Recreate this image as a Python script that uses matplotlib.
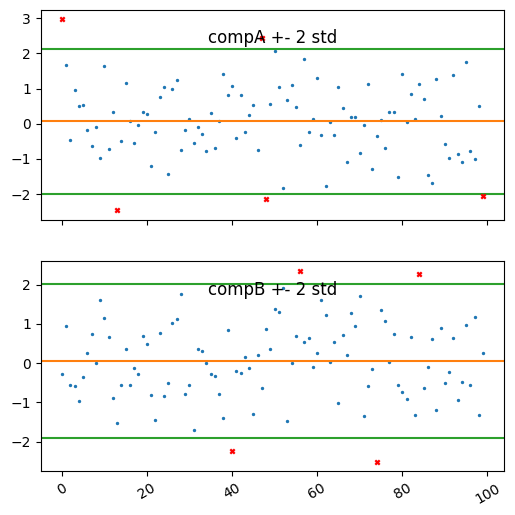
import numpy as np
from matplotlib import pyplot as plt

# values read per sample index
compA = [2.97, 1.67, -0.46, 0.96, 0.50, 0.53, -0.18, -0.63, -0.09, -0.98,
         1.64, -0.72, 0.33, -2.45, -0.49, 1.16, 0.08, -0.55, -0.04, 0.33,
         0.28, -1.20, -0.24, 0.76, 1.04, -1.43, 0.99, 1.24, -0.75, -0.18,
         0.13, -0.55, -0.09, -0.29, -0.78, 0.30, -0.69, 0.07, 1.41, 0.81,
         1.07, -0.41, 0.81, -0.24, 0.25, 0.53, -0.75, 2.45, -2.14, 0.56,
         2.06, 1.04, -1.83, 0.67, 1.10, 0.47, -0.61, 1.84, -0.24, 0.13,
         1.30, -0.32, -1.77, 0.05, -0.32, 1.04, 0.45, -1.09, 0.19, 0.19,
         -0.83, -0.04, 1.13, -1.29, -0.35, 0.12, -0.69, 0.33, 0.33, -1.51,
         1.41, 0.05, 0.84, 0.13, 1.12, 0.70, -1.46, -1.68, 1.27, 0.22,
         -0.58, -0.97, 1.38, -0.86, -1.09, 1.75, -0.78, -1.00, 0.52, -2.06]

compB = [-0.27, 0.95, -0.55, -0.58, -0.96, -0.35, 0.26, 0.75, 0.01, 1.61,
         1.15, 0.67, -0.88, -1.52, -0.55, 0.36, -0.55, -0.12, -0.27, 0.69,
         0.49, -0.81, -1.44, 0.77, -0.83, -0.50, 1.03, 1.13, 1.76, -0.78,
         -0.55, -1.69, 0.36, 0.31, 0.01, -0.27, -0.32, -0.78, -1.39, 0.85,
         -2.25, -0.19, -0.25, 0.16, -0.12, -1.29, 0.21, -0.63, 0.87, 0.36,
         1.38, 1.31, 1.92, -1.47, 0.01, 0.69, 2.35, 0.54, 0.64, -0.09,
         0.26, 1.61, 1.23, 0.03, 0.54, -1.01, 0.72, 0.21, 1.28, 0.95,
         1.71, -1.34, -0.58, -0.14, -2.51, 1.36, 1.08, 0.03, 0.75, -0.55,
         -0.73, -0.91, 0.67, -1.31, 2.27, -0.63, -0.09, 0.62, -1.19, 0.90,
         -0.50, -0.22, 0.64, -0.93, -0.47, 0.97, -0.55, 1.18, -1.31, 0.26]

names = ['compA', 'compB']

fig, axes = plt.subplots(2, 1, sharex=True, figsize=(5.15, 5.15), dpi=100)
fig.subplots_adjust(left=0.079, right=0.979, top=0.981, bottom=0.085, hspace=0.2)

for ax, name, vals in zip(axes, names, [compA, compB]):
    y = np.array(vals)
    x = np.arange(len(y))
    m, s = y.mean(), y.std()
    out = (y > m + 2 * s) | (y < m - 2 * s)

    ax.scatter(x, y, s=2, color='C0')
    ax.axhline(m, color='C1')
    ax.axhline(m + 2 * s, color='C2')
    ax.axhline(m - 2 * s, color='C2')
    ax.scatter(x[out], y[out], marker='x', s=10, linewidths=1.6, color='red', zorder=3)
    ax.text(0.5, 0.865, name + ' +- 2 std', transform=ax.transAxes,
            ha='center', va='center', fontsize=12)

plt.setp(axes[1].get_xticklabels(), rotation=30)
fig.savefig('out.png')
